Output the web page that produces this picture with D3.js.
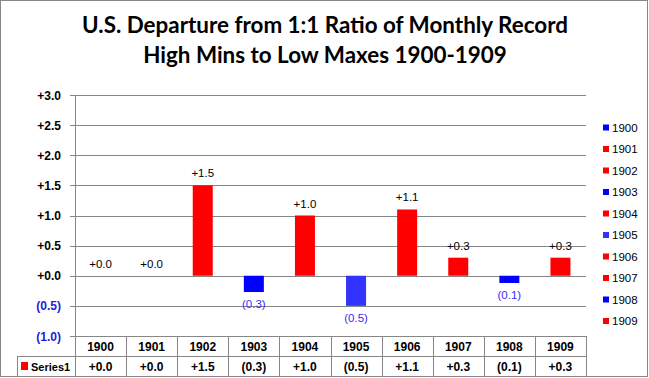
<!DOCTYPE html>
<html><head><meta charset="utf-8">
<script src="https://cdn.jsdelivr.net/npm/d3@7"></script>
<style>
html,body{margin:0;padding:0;background:#fff;}
svg{display:block;}
</style></head>
<body>
<svg id="chart" width="649" height="378"></svg>
<script>
const years = ["1900","1901","1902","1903","1904","1905","1906","1907","1908","1909"];
const values = [0.0, 0.0, 1.5, -0.27, 1.0, -0.5, 1.1, 0.3, -0.12, 0.3];
const barColors = ["#0000ff","#ff0000","#ff0000","#0000ff","#ff0000","#3333ff","#ff0000","#ff0000","#0000ff","#ff0000"];
const yTicks = [-1.0,-0.5,0,0.5,1.0,1.5,2.0,2.5,3.0];
const seriesName = "Series1";
const titleLines = ["U.S. Departure from 1:1 Ratio of Monthly Record","High Mins to Low Maxes 1900-1909"];

const fmt = v => {
  const r = Math.round(Math.abs(v)*10)/10;
  return v < 0 ? "(" + r.toFixed(1) + ")" : "+" + r.toFixed(1);
};

const svg = d3.select("#chart");
const W = 649, H = 378;
const plot = {left:75, right:586, top:95, bottom:336};
const grid = "#868686";
const FONT = "Liberation Sans, Arial, sans-serif";

svg.append("rect").attr("x",0.5).attr("y",0.5).attr("width",W-2).attr("height",H-2)
  .attr("fill","#fff").attr("stroke",grid);

const x = d3.scaleBand().domain(years).range([plot.left, plot.right]).padding(0);
const y = d3.scaleLinear().domain([-1,3]).range([plot.bottom, plot.top]);

// gridlines
svg.append("g").selectAll("line").data(yTicks).join("line")
  .attr("x1",plot.left-5).attr("x2",plot.right)
  .attr("y1",d=>Math.round(y(d))+0.5).attr("y2",d=>Math.round(y(d))+0.5)
  .attr("stroke",grid).attr("stroke-width",1);
// y axis line
svg.append("line").attr("x1",plot.left+0.5).attr("x2",plot.left+0.5)
  .attr("y1",plot.top).attr("y2",plot.bottom).attr("stroke",grid);

// y tick labels
svg.append("g").selectAll("text").data(yTicks).join("text")
  .attr("x",61).attr("y",d=>y(d)+4.5).attr("text-anchor","end")
  .attr("font-family",FONT).attr("font-weight","bold")
  .attr("font-size",12).attr("fill",d=>d<0?"#2222d8":"#000")
  .text(d=>fmt(d));

// bars
const bw = 20;
svg.append("g").selectAll("rect").data(years).join("rect")
  .attr("x",(d)=>x(d)+x.bandwidth()/2-bw/2)
  .attr("width",bw)
  .attr("y",(d,i)=>y(Math.max(0,values[i])))
  .attr("height",(d,i)=>Math.abs(y(values[i])-y(0)))
  .attr("fill",(d,i)=>barColors[i]);

// data labels
svg.append("g").selectAll("text").data(years).join("text")
  .attr("x",d=>x(d)+x.bandwidth()/2)
  .attr("y",(d,i)=>values[i]>=0 ? y(values[i])-8 : y(values[i])+16)
  .attr("text-anchor","middle")
  .attr("font-family",FONT).attr("font-size",11.5)
  .attr("fill",(d,i)=>values[i]<0?"#3a2cf0":"#000")
  .text((d,i)=>fmt(values[i]));

// data table
const rowH = 20;
const t0 = plot.bottom, t1 = t0+rowH, t2 = t1+rowH;
const tbl = svg.append("g");
const tl = (x1,y1,x2,y2)=>tbl.append("line").attr("x1",x1).attr("y1",y1).attr("x2",x2).attr("y2",y2).attr("stroke",grid);
tl(plot.left, t0+0.5, plot.right, t0+0.5);
tl(17, t1+0.5, plot.right, t1+0.5);
tl(17, t2+0.5, plot.right, t2+0.5);
tl(17.5, t1, 17.5, t2);
years.forEach((d,i)=>{ tl(Math.round(x(d))+0.5, t0, Math.round(x(d))+0.5, t2); });
tl(plot.right+0.5, t0, plot.right+0.5, t2);
tbl.selectAll("text.yr").data(years).join("text").attr("class","yr")
  .attr("x",d=>x(d)+x.bandwidth()/2).attr("y",t0+15).attr("text-anchor","middle")
  .attr("font-family",FONT).attr("font-weight","bold").attr("font-size",12)
  .text(d=>d);
tbl.selectAll("text.val").data(years).join("text").attr("class","val")
  .attr("x",d=>x(d)+x.bandwidth()/2).attr("y",t1+15).attr("text-anchor","middle")
  .attr("font-family",FONT).attr("font-weight","bold").attr("font-size",12)
  .text((d,i)=>fmt(values[i]));
tbl.append("rect").attr("x",21).attr("y",t1+6).attr("width",7).attr("height",8).attr("fill","#ff0000");
tbl.append("text").attr("x",31).attr("y",t1+15)
  .attr("font-family",FONT).attr("font-weight","bold").attr("font-size",11)
  .text(seriesName);

// legend
const lg = svg.append("g");
years.forEach((d,i)=>{
  const cy = 127.5 + i*21.5;
  lg.append("rect").attr("x",603).attr("y",cy-3).attr("width",6).attr("height",6).attr("fill",barColors[i]);
  lg.append("text").attr("x",612).attr("y",cy+4).attr("font-family",FONT)
    .attr("font-size",11.5).attr("fill","#000").text(d);
});

// title
const title = svg.append("g");
const tlines = titleLines.map((s,i)=>title.append("text").attr("x",325).attr("y",33+i*30)
  .attr("text-anchor","middle").attr("font-family","Lato, sans-serif").attr("font-weight","bold")
  .attr("font-size",20).attr("fill","#000").text(s));
const w0 = tlines[0].node().getComputedTextLength();
const fs = 20*486/w0;
tlines.forEach(t=>t.attr("font-size",fs));
</script>
</body></html>
